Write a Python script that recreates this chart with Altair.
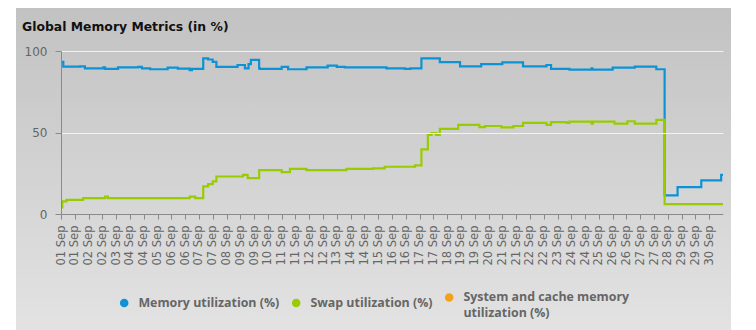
import altair as alt
import pandas as pd

SERIES = ["Memory utilization (%)", "Swap utilization (%)", "System and cache memory utilization (%)"]
COLORS = ["#0b93d5", "#99cc00", "#f5a01a"]

MEM_HOURS = [0, 2.5, 20.7, 26, 46, 48, 62, 84, 88, 97, 116, 127, 140, 142.4, 154.7, 160, 165, 169, 173,
             192, 200, 204, 206.5, 213, 215.5, 216.3, 240, 247, 267, 290, 300, 308.7, 354, 374, 380,
             392, 412, 434, 457, 480, 502.5, 528, 533, 553, 577, 578, 600, 624, 647.5, 656.5, 670.6,
             696.4, 718, 720]
MEM_VALUES = [93.4, 90.4, 90.6, 89.4, 90.0, 89.0, 90.0, 90.2, 89.4, 88.8, 89.8, 89.2, 88.2, 89.0, 95.5,
              94.8, 93.3, 90.3, 90.2, 91.4, 89.4, 92.0, 94.5, 94.5, 89.4, 89.0, 90.2, 88.8, 90.0, 91.0,
              90.2, 90.0, 89.4, 89.0, 89.4, 95.5, 93.2, 90.6, 92.0, 93.0, 90.6, 91.4, 89.0, 88.6, 89.4,
              88.6, 89.8, 90.4, 88.8, 11.4, 16.5, 20.6, 24.0, 24.0]

SWAP_HOURS = [0, 1.4, 6, 24, 48, 51, 140, 146, 154.7, 160, 165, 169, 198, 203, 215.5, 240, 249, 267,
              310.5, 339.5, 352, 385, 392, 399, 403, 408, 412, 432, 455, 461, 479, 492, 502.5, 528, 533,
              550, 553, 577, 578.5, 602, 616, 624, 647.5, 656.5, 720]
SWAP_VALUES = [4.0, 7.7, 8.7, 9.8, 10.6, 9.8, 10.6, 9.8, 16.9, 18.3, 20.0, 23.0, 24.0, 22.0, 26.9, 25.7,
               27.7, 26.9, 27.7, 28.0, 29.0, 29.8, 39.6, 48.6, 49.6, 48.6, 52.2, 54.7, 53.3, 54.0, 53.2,
               54.0, 55.9, 54.7, 56.4, 55.9, 56.7, 55.5, 56.7, 55.5, 56.9, 55.5, 57.7, 6.1, 6.1]

TICK_HOURS = [0, 15, 30, 45, 60, 75, 90, 105, 120, 135, 150, 165, 180, 195, 210, 225, 240, 255, 270,
              285, 300, 315, 330, 345, 360, 375, 390, 405, 420, 435, 450, 465, 480, 495, 510, 525, 540,
              555, 570, 585, 600, 615, 630, 645, 660, 675, 690, 705]
TICK_LABELS = ["01 Sep", "01 Sep", "02 Sep", "02 Sep", "03 Sep", "04 Sep", "04 Sep", "05 Sep", "06 Sep",
               "06 Sep", "07 Sep", "07 Sep", "08 Sep", "09 Sep", "09 Sep", "10 Sep", "11 Sep", "11 Sep",
               "12 Sep", "12 Sep", "13 Sep", "14 Sep", "14 Sep", "15 Sep", "16 Sep", "16 Sep", "17 Sep",
               "17 Sep", "18 Sep", "19 Sep", "19 Sep", "20 Sep", "21 Sep", "21 Sep", "22 Sep", "22 Sep",
               "23 Sep", "24 Sep", "24 Sep", "25 Sep", "26 Sep", "26 Sep", "27 Sep", "27 Sep", "28 Sep",
               "29 Sep", "29 Sep", "30 Sep"]
Y_TICKS = [0, 50, 100]

rows = []
for h, v in zip(MEM_HOURS, MEM_VALUES):
    rows.append({"series": SERIES[0], "hour": h, "value": v})
for h, v in zip(SWAP_HOURS, SWAP_VALUES):
    rows.append({"series": SERIES[1], "hour": h, "value": v})
df = pd.DataFrame(rows)

W, H = 662, 163

hours_js = "[" + ",".join(str(h) for h in TICK_HOURS) + "]"
labels_js = "[" + ",".join("'" + s + "'" for s in TICK_LABELS) + "]"
x_label_expr = labels_js + "[indexof(" + hours_js + ", datum.value)]"
legend_label_expr = ("datum.label == '" + SERIES[2] + "' ? ['System and cache memory', 'utilization (%)'] : datum.label")

bg = alt.Chart(pd.DataFrame({"a": [0]})).mark_rect(
    fill=alt.Gradient(gradient="linear",
                      stops=[alt.GradientStop(color="#c2c2c2", offset=0),
                             alt.GradientStop(color="#e3e3e3", offset=1)],
                      x1=0, x2=0, y1=0, y2=1)
).encode(x=alt.value(-45), x2=alt.value(W + 8), y=alt.value(-43), y2=alt.value(H + 120))

lines = alt.Chart(df).mark_line(strokeWidth=2.2, interpolate="step-after").encode(
    x=alt.X("hour:Q", scale=alt.Scale(domain=[0, 720], nice=False),
            axis=alt.Axis(values=TICK_HOURS, labelExpr=x_label_expr, labelAngle=270, tickSize=5,
                          grid=False, labelPadding=6, labelOverlap=False, labelFlush=False,
                          labelBound=False, title=None, labelFontSize=11.5, zindex=1)),
    y=alt.Y("value:Q", scale=alt.Scale(domain=[0, 100], nice=False),
            axis=alt.Axis(values=Y_TICKS, tickSize=6, labelPadding=8, title=None, labelFontSize=12,
                          grid=True, gridColor="#f2f2f2", gridWidth=1, zindex=1)),
    color=alt.Color("series:N", scale=alt.Scale(domain=SERIES, range=COLORS),
                    legend=alt.Legend(orient="none", legendX=57, legendY=240, direction="horizontal",
                                      title=None, symbolType="circle", symbolSize=16,
                                      symbolStrokeWidth=4.5, labelFont="Open Sans", labelFontWeight="bold",
                                      labelFontSize=12.4, labelColor="#666666", labelLimit=300,
                                      labelExpr=legend_label_expr, columnPadding=5, labelOffset=8,
                                      padding=0))
)

chart = alt.layer(bg, lines).properties(
    width=W, height=H,
    title=alt.TitleParams("Global Memory Metrics (in %)", anchor="start", frame="group", dx=-39,
                          offset=-25, font="DejaVu Sans", fontSize=12.4, fontWeight="bold", color="#111111"),
    autosize=alt.AutoSizeParams(type="none"),
    padding={"left": 61, "top": 51, "right": 33, "bottom": 116},
    background="white"
).configure(
    view={"stroke": "transparent"},
    axis={"labelFont": "DejaVu Sans", "labelColor": "#666666", "domainColor": "#8a8a8a",
          "tickColor": "#8a8a8a"},
    style={"guide-label": {"lineHeight": 16}}
)

chart.save("out.html", embed_options={"renderer": "svg", "actions": False})
